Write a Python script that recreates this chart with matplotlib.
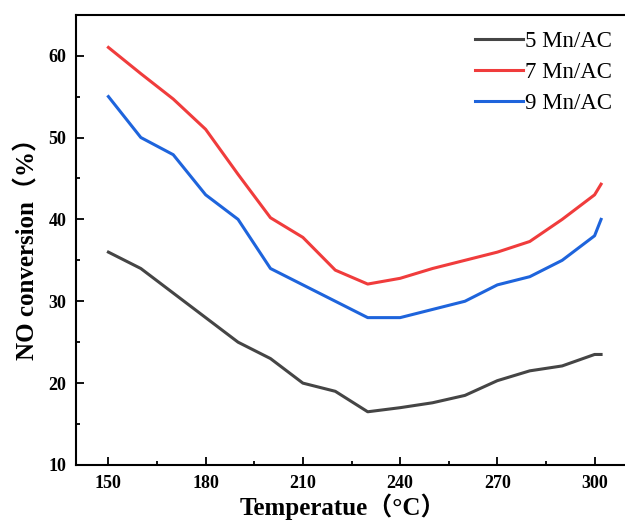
import matplotlib
matplotlib.use("Agg")
import matplotlib.pyplot as plt
from matplotlib.ticker import MultipleLocator

# 数据
temps = [150, 160, 170, 180, 190, 200, 210, 220, 230, 240, 250, 260, 270, 280, 290, 300, 302]
mn5 = [36, 34, 31, 28, 25, 23, 20, 19, 16.5, 17, 17.6, 18.5, 20.3, 21.5, 22.1, 23.5, 23.5]
mn7 = [61, 57.8, 54.7, 51, 45.5, 40.2, 37.8, 33.8, 32.1, 32.8, 34, 35, 36, 37.3, 40, 43, 44.3]
mn9 = [55, 50, 47.9, 43, 40, 34, 32, 30, 28, 28, 29, 30, 32, 33, 35, 38, 40]
labels = ["5 Mn/AC", "7 Mn/AC", "9 Mn/AC"]
colors = ["#454545", "#f03c3c", "#1e64dc"]

plt.rcParams['font.family'] = ['Liberation Serif', 'Noto Sans CJK SC']

fig = plt.figure(figsize=(6.25, 5.25), dpi=100)
ax = fig.add_axes([0.1216, 0.1143, 0.8816, 0.8577])

for ys, lab, c in zip([mn5, mn7, mn9], labels, colors):
    ax.plot(temps, ys, color=c, lw=2.2, label=lab)

ax.set_xlim(140, 310)
ax.set_ylim(10, 65)
ax.xaxis.set_major_locator(MultipleLocator(30))
ax.xaxis.set_minor_locator(MultipleLocator(15))
ax.yaxis.set_major_locator(MultipleLocator(10))
ax.yaxis.set_minor_locator(MultipleLocator(5))
ax.tick_params(which='both', direction='in', width=1.3)
ax.tick_params(which='major', length=6, labelsize=13)
ax.tick_params(which='minor', length=3)
ax.tick_params(axis='x', pad=7)
ax.tick_params(axis='y', pad=7)
for lbl in ax.get_xticklabels() + ax.get_yticklabels():
    lbl.set_fontweight('bold')
for s in ax.spines.values():
    s.set_linewidth(1.5)

# 坐标轴标题
ax.set_xlabel("Temperatue（°C）", fontsize=18, fontweight='bold', va='baseline')
ax.set_ylabel("NO conversion（%）", fontsize=18, fontweight='bold')
ax.xaxis.set_label_coords(0.485, -0.11)
ax.yaxis.set_label_coords(-0.066, 0.492)

ax.legend(loc='upper right', bbox_to_anchor=(0.973, 0.963), frameon=False, fontsize=16.5,
          borderpad=0, borderaxespad=0, handlelength=2.1, handletextpad=0.1,
          labelspacing=0.43)

fig.savefig("out.png", dpi=100)
